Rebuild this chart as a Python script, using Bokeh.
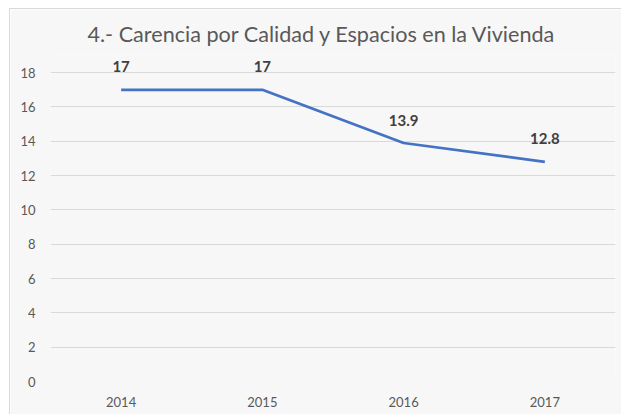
from bokeh.plotting import figure
from bokeh.models import FactorRange, Range1d, FixedTicker, ColumnDataSource, LabelSet
from bokeh.core.properties import value
from bokeh.embed import file_html
from bokeh.resources import INLINE

years = ["2014", "2015", "2016", "2017"]
values = [17, 17, 13.9, 12.8]
value_labels = ["17", "17", "13.9", "12.8"]
y_ticks = [0, 2, 4, 6, 8, 10, 12, 14, 16, 18]
title_text = "4.- Carencia por Calidad y Espacios en la Vivienda"

FONT = "Lato"
BG = "#f7f7f7"

p = figure(
    width=612, height=406,
    x_range=FactorRange(*years, range_padding=0),
    y_range=Range1d(0, 19),
    output_backend="svg", toolbar_location=None,
    min_border_left=40, min_border_right=7,
    min_border_top=46, min_border_bottom=34,
    title=title_text,
)
p.styles = {"margin-top": "8px", "margin-left": "9px",
            "border-left": "1px solid #d9d9d9", "border-top": "1px solid #d9d9d9"}
p.background_fill_color = BG
p.border_fill_color = BG
p.outline_line_color = None

p.title.align = "left"
p.title.offset = 37
p.title.standoff = 14
p.title.text_line_height = 1.0
p.title.vertical_align = "top"
p.title.text_font = FONT
p.title.text_font_size = "21.6px"
p.title.text_font_style = "normal"
p.title.text_color = "#595959"

src = ColumnDataSource(dict(x=years, y=values, lab=value_labels))
p.line("x", "y", source=src, line_color="#4472C4", line_width=2.75)
labels = LabelSet(x="x", y="y", text="lab", source=src, y_offset=23,
                  text_align="center", text_baseline="middle",
                  text_font=value(FONT), text_font_style="bold",
                  text_font_size="15px", text_color="#404040")
p.add_layout(labels)

p.yaxis.ticker = FixedTicker(ticks=y_ticks)
for ax in (p.xaxis[0], p.yaxis[0]):
    ax.axis_line_color = None
    ax.major_tick_line_color = None
    ax.minor_tick_line_color = None
    ax.major_tick_out = 0
    ax.major_tick_in = 0
    ax.major_label_text_font = FONT
    ax.major_label_text_font_size = "13px"
    ax.major_label_text_color = "#595959"
p.yaxis.major_label_standoff = 15
p.xaxis.major_label_standoff = 15

p.xgrid.grid_line_color = None
p.ygrid.grid_line_color = "#d9d9d9"
p.ygrid.grid_line_width = 1

open("out.html", "w").write(file_html(p, INLINE))
